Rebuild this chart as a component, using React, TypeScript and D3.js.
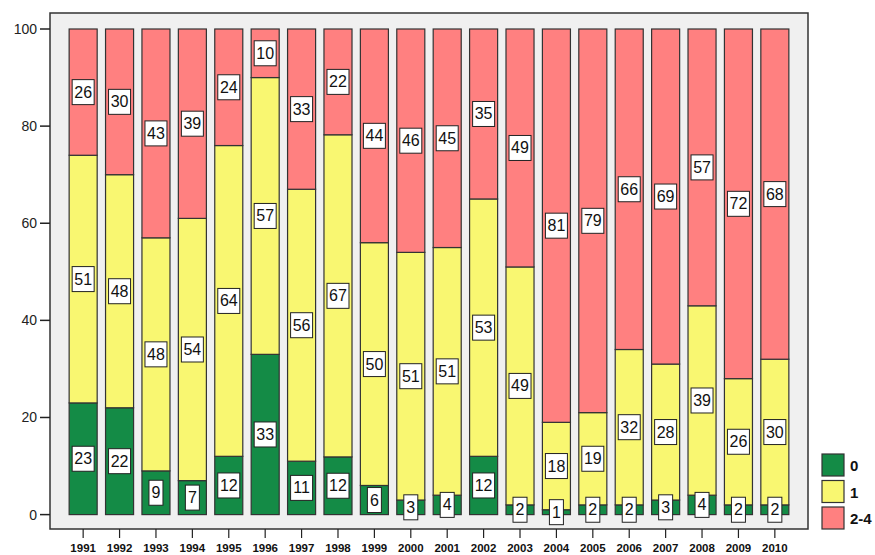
import React, { useEffect, useRef } from 'react';
import * as d3 from 'd3';

const years = ['1991', '1992', '1993', '1994', '1995', '1996', '1997', '1998', '1999', '2000',
  '2001', '2002', '2003', '2004', '2005', '2006', '2007', '2008', '2009', '2010'];
const zero = [23, 22, 9, 7, 12, 33, 11, 12, 6, 3, 4, 12, 2, 1, 2, 2, 3, 4, 2, 2];
const one = [51, 48, 48, 54, 64, 57, 56, 67, 50, 51, 51, 53, 49, 18, 19, 32, 28, 39, 26, 30];
const twoFour = [26, 30, 43, 39, 24, 10, 33, 22, 44, 46, 45, 35, 49, 81, 79, 66, 69, 57, 72, 68];
const seriesNames = ['0', '1', '2-4'];
const colors = ['#148B46', '#F9F771', '#FF8080'];
const yTicks = [0, 20, 40, 60, 80, 100];

const App = () => {
  const svgRef = useRef<SVGSVGElement>(null);

  useEffect(() => {
    const svg = d3.select(svgRef.current);
    svg.selectAll('*').remove();

    const frame = { left: 50, top: 13, right: 808, bottom: 529 };
    const font = 'Liberation Sans, Arial, sans-serif';

    const x = d3.scaleBand()
      .domain(years)
      .range([65.5, 792.5])
      .paddingInner(0.23)
      .paddingOuter(0.1);

    const y = d3.scaleLinear()
      .domain([0, 100])
      .range([514.6, 29]);

    // plot frame
    svg.append('rect')
      .attr('x', frame.left)
      .attr('y', frame.top)
      .attr('width', frame.right - frame.left)
      .attr('height', frame.bottom - frame.top)
      .attr('fill', '#F0F0F0')
      .attr('stroke', '#333')
      .attr('stroke-width', 1.5);

    // data table
    const rows = years.map((yr, i) => ({ year: yr, values: [zero[i], one[i], twoFour[i]] }));

    rows.forEach(row => {
      const total = d3.sum(row.values);
      let acc = 0;
      row.values.forEach((v, s) => {
        const y0 = acc / total * 100;
        acc += v;
        const y1 = acc / total * 100;
        svg.append('rect')
          .attr('x', x(row.year)!)
          .attr('y', y(y1))
          .attr('width', x.bandwidth())
          .attr('height', y(y0) - y(y1))
          .attr('fill', colors[s])
          .attr('stroke', '#333')
          .attr('stroke-width', 1.2);
      });
    });

    // value labels
    rows.forEach(row => {
      const total = d3.sum(row.values);
      let acc = 0;
      row.values.forEach(v => {
        const y0 = acc / total * 100;
        acc += v;
        const y1 = acc / total * 100;
        const cx = x(row.year)! + x.bandwidth() / 2;
        const cy = y((y0 + y1) / 2);
        const label = String(v);
        const w = label.length > 1 ? 22 : 14;
        svg.append('rect')
          .attr('x', cx - w / 2)
          .attr('y', cy - 12.5)
          .attr('width', w)
          .attr('height', 25)
          .attr('fill', '#fff')
          .attr('stroke', '#222')
          .attr('stroke-width', 1);
        svg.append('text')
          .attr('x', cx)
          .attr('y', cy + 5.5)
          .attr('text-anchor', 'middle')
          .attr('font-family', font)
          .attr('font-size', 16)
          .attr('fill', '#111')
          .text(label);
      });
    });

    // y axis
    const yAxis = svg.append('g');
    yTicks.forEach(t => {
      yAxis.append('line')
        .attr('x1', 40).attr('x2', frame.left)
        .attr('y1', y(t)).attr('y2', y(t))
        .attr('stroke', '#222').attr('stroke-width', 1.5);
      yAxis.append('text')
        .attr('x', 37)
        .attr('y', y(t) + 5)
        .attr('text-anchor', 'end')
        .attr('font-family', font)
        .attr('font-size', 14)
        .attr('fill', '#222')
        .text(t);
    });

    // x axis
    const xAxis = svg.append('g');
    years.forEach(yr => {
      const cx = x(yr)! + x.bandwidth() / 2;
      xAxis.append('line')
        .attr('x1', cx).attr('x2', cx)
        .attr('y1', frame.bottom).attr('y2', 538)
        .attr('stroke', '#222').attr('stroke-width', 1.2);
      xAxis.append('text')
        .attr('x', cx)
        .attr('y', 551.5)
        .attr('text-anchor', 'middle')
        .attr('font-family', font)
        .attr('font-weight', 'bold')
        .attr('font-size', 11.5)
        .attr('fill', '#111')
        .text(yr);
    });

    // legend
    const legend = svg.append('g');
    seriesNames.forEach((name, i) => {
      const ly = 454 + i * 26.5;
      legend.append('rect')
        .attr('x', 822).attr('y', ly)
        .attr('width', 22).attr('height', 22)
        .attr('fill', colors[i])
        .attr('stroke', '#333').attr('stroke-width', 1.2);
      legend.append('text')
        .attr('x', 850).attr('y', ly + 17)
        .attr('font-family', font)
        .attr('font-weight', 'bold')
        .attr('font-size', 15)
        .attr('fill', '#111')
        .text(name);
    });
  }, []);

  return (
    <svg ref={svgRef} width={875} height={555}
      style={{ position: 'absolute', left: 0, top: 0, background: '#fff' }} />
  );
};

export default App;
